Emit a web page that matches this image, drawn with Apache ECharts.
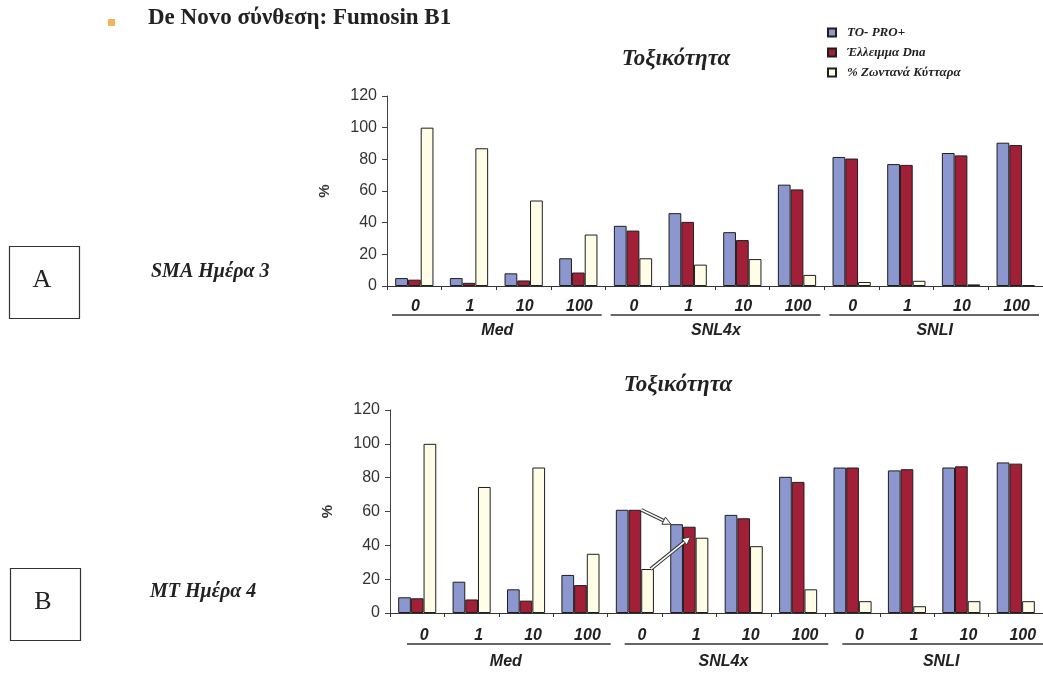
<!DOCTYPE html>
<html><head><meta charset="utf-8">
<script src="https://cdn.jsdelivr.net/npm/echarts@6/dist/echarts.min.js"></script>
<style>html,body{margin:0;padding:0;background:#fff}#c{width:1043px;height:673px}</style>
</head><body><div id="c"></div>
<script>
// ---- data ----
const categories = ['0','1','10','100','0','1','10','100','0','1','10','100'];
const groups = ['Med','SNL4x','SNLI'];
const seriesNames = ['TO- PRO+','Έλλειμμα Dna','% Ζωντανά Κύτταρα'];
const yTicks = [0, 20, 40, 60, 80, 100, 120];
// Chart A: SMA Ημέρα 3
const aToPro = [5, 5, 8, 17.5, 38, 46, 34, 64, 81.5, 77, 84, 90.5];
const aDna   = [4, 2, 3.5, 8.5, 35, 40.5, 29, 61, 80.5, 76.5, 82.5, 89];
const aLive  = [100, 87, 54, 32.5, 17.5, 13.5, 17, 7, 2.5, 3.3, 1, 0.5];
// Chart B: MT Ημέρα 4
const bToPro = [9.3, 18.5, 14, 22.5, 61, 52.5, 58, 80.5, 86, 84.3, 86, 89];
const bDna   = [8.7, 8, 7.3, 16.5, 61, 51, 56, 77.5, 86, 85, 86.7, 88.3];
const bLive  = [100, 74.5, 86, 35, 26, 44.5, 39.5, 14, 7, 4, 7, 7];
// group spans (category index ranges)
const groupSpans = [[0, 3], [4, 7], [8, 11]];
// annotation arrows in chart B: [fromCategory, fromSeries, fromValue, toCategory, toSeries, toValue]
const bArrows = [[4, 1, 61, 5, 0, 52.5], [4, 2, 26, 5, 1, 45]];

// ---- styling ----
const colors = ['#8c97cf', '#a11f37', '#fffde6'];
const sans = 'Liberation Sans, Arial, sans-serif';
const serif = 'Liberation Serif, Times New Roman, serif';
const GAP = 0.30;
const arrowFrac = [[1.0, 0.05], [0.75, 0.6]]; // anchor position across bar width (from, to)

const chart = echarts.init(document.getElementById('c'), null, {renderer: 'canvas'});

function makeAxes(gi, labelMargin, labelShift, groupOffset) {
  return [
    {
      type: 'category', gridIndex: gi, data: categories,
      axisLine: {lineStyle: {color: '#333', width: 1}},
      axisTick: {show: true, length: 4, lineStyle: {color: '#333'}},
      axisLabel: {interval: 0, margin: labelMargin, fontSize: 16, fontWeight: 'bold', fontStyle: 'italic',
                  fontFamily: sans, color: '#222', padding: [0, 0, 0, labelShift]}
    },
    {
      type: 'category', gridIndex: gi, data: groups, position: 'bottom', offset: groupOffset,
      axisLine: {show: false}, axisTick: {show: false},
      axisLabel: {interval: 0, margin: 0, fontSize: 16, fontWeight: 'bold', fontStyle: 'italic',
                  fontFamily: sans, color: '#222', padding: [0, 0, 0, labelShift]}
    }
  ];
}

function yAxis(gi) {
  return {
    type: 'value', gridIndex: gi, min: yTicks[0], max: yTicks[yTicks.length - 1], interval: yTicks[1] - yTicks[0],
    name: '%', nameLocation: 'middle', nameGap: 55, nameRotate: 90,
    nameTextStyle: {fontSize: 15, fontFamily: sans, color: '#333', fontWeight: 'bold'},
    axisLine: {show: true, lineStyle: {color: '#444'}},
    axisTick: {show: true, length: 5, lineStyle: {color: '#444'}},
    axisLabel: {fontSize: 16, fontFamily: sans, color: '#333', margin: 10},
    splitLine: {show: false}
  };
}

function bars(xi, yi, arrs) {
  return arrs.map((d, i) => ({
    type: 'bar', name: seriesNames[i], xAxisIndex: xi, yAxisIndex: yi, data: d,
    barGap: '0%', barCategoryGap: (GAP * 100) + '%',
    itemStyle: {color: colors[i], borderColor: '#1e1e1e', borderWidth: 1},
    emphasis: {disabled: true}, silent: true
  }));
}

function underline(xi, yi, dy, insetL, insetR) {
  return {
    type: 'custom', xAxisIndex: xi, yAxisIndex: yi, data: groupSpans, clip: false, silent: true, z: 5,
    renderItem: function (params, api) {
      const s = api.value(0), e = api.value(1);
      const p0 = api.coord([s, 0]), p1 = api.coord([e, 0]);
      const bw = api.size([1, 0])[0];
      const y = p0[1] + dy;
      return {type: 'line', shape: {x1: p0[0] - bw / 2 + insetL, y1: y, x2: p1[0] + bw / 2 - insetR, y2: y},
              style: {stroke: '#333', lineWidth: 1.3}};
    }
  };
}

function arrows(xi, yi, data) {
  return {
    type: 'custom', xAxisIndex: xi, yAxisIndex: yi, data: data, clip: false, silent: true, z: 10,
    renderItem: function (params, api) {
      const bw = api.size([1, 0])[0];
      const barW = bw * (1 - GAP) / 3;
      const fr = arrowFrac[params.dataIndex];
      function pt(cat, s, v, f) {
        const c = api.coord([cat, v]);
        return [c[0] - 1.5 * barW + s * barW + f * barW, c[1]];
      }
      const a = pt(api.value(0), api.value(1), api.value(2), fr[0]);
      const b = pt(api.value(3), api.value(4), api.value(5), fr[1]);
      const dx = b[0] - a[0], dyy = b[1] - a[1], L = Math.hypot(dx, dyy);
      const ux = dx / L, uy = dyy / L, nx = -uy, ny = ux;
      const hl = 8, hw = 4;
      const base = [b[0] - ux * hl, b[1] - uy * hl];
      return {
        type: 'group', children: [
          {type: 'line', shape: {x1: a[0], y1: a[1], x2: base[0], y2: base[1]}, style: {stroke: '#333', lineWidth: 3.6}},
          {type: 'line', shape: {x1: a[0], y1: a[1], x2: base[0] + ux, y2: base[1] + uy}, style: {stroke: '#fff', lineWidth: 1.6}},
          {type: 'polygon', shape: {points: [b, [base[0] + nx * hw, base[1] + ny * hw], [base[0] - nx * hw, base[1] - ny * hw]]},
           style: {fill: '#fff', stroke: '#333', lineWidth: 1}}
        ]
      };
    }
  };
}

const axA = makeAxes(0, 13, 2, 37);
const axB = makeAxes(1, 15, 14, 41);

const option = {
  animation: false,
  backgroundColor: '#fff',
  title: [
    {text: 'Τοξικότητα', left: 671, top: 43, textAlign: 'center',
     textStyle: {fontFamily: serif, fontSize: 23, fontWeight: 'bold', fontStyle: 'italic', color: '#222'}},
    {text: 'Τοξικότητα', left: 673, top: 369, textAlign: 'center',
     textStyle: {fontFamily: serif, fontSize: 23, fontWeight: 'bold', fontStyle: 'italic', color: '#222'}}
  ],
  legend: {
    data: seriesNames, orient: 'vertical', left: 822, top: 21, itemWidth: 8, itemHeight: 8, itemGap: 7,
    icon: 'rect', selectedMode: false,
    textStyle: {fontFamily: serif, fontSize: 13, fontWeight: 'bold', fontStyle: 'italic', color: '#222', padding: [0, 0, 0, 6]}
  },
  grid: [
    {left: 387, right: 0, top: 96, height: 190},
    {left: 390, right: 0, top: 410, height: 203}
  ],
  xAxis: [axA[0], axA[1], axB[0], axB[1]],
  yAxis: [yAxis(0), yAxis(1)],
  series: [
    ...bars(0, 0, [aToPro, aDna, aLive]),
    ...bars(2, 1, [bToPro, bDna, bLive]),
    underline(0, 0, 29, 5, 4),
    underline(2, 1, 31, 17, -3),
    arrows(2, 1, bArrows)
  ],
  graphic: [
    {type: 'rect', left: 108, top: 19, shape: {width: 7, height: 7}, style: {fill: '#f2b35a'}},
    {type: 'text', left: 148, top: 7, style: {text: 'De Novo σύνθεση: Fumosin B1', font: 'bold 23px ' + serif, fill: '#222'}},
    {type: 'rect', left: 7, top: 244, shape: {width: 70, height: 72}, style: {fill: 'none', stroke: '#333', lineWidth: 1.2}},
    {type: 'text', x: 42, y: 280, style: {text: 'A', font: '26px ' + serif, fill: '#222', align: 'center', verticalAlign: 'middle'}},
    {type: 'rect', left: 8, top: 566, shape: {width: 70, height: 72}, style: {fill: 'none', stroke: '#333', lineWidth: 1.2}},
    {type: 'text', x: 43, y: 602, style: {text: 'B', font: '26px ' + serif, fill: '#222', align: 'center', verticalAlign: 'middle'}},
    {type: 'text', left: 151, top: 262, style: {text: 'SMA Ημέρα 3', font: 'italic bold 20px ' + serif, fill: '#222'}},
    {type: 'text', left: 150, top: 582, style: {text: 'MT Ημέρα 4', font: 'italic bold 20px ' + serif, fill: '#222'}}
  ]
};
chart.setOption(option);
</script></body></html>
